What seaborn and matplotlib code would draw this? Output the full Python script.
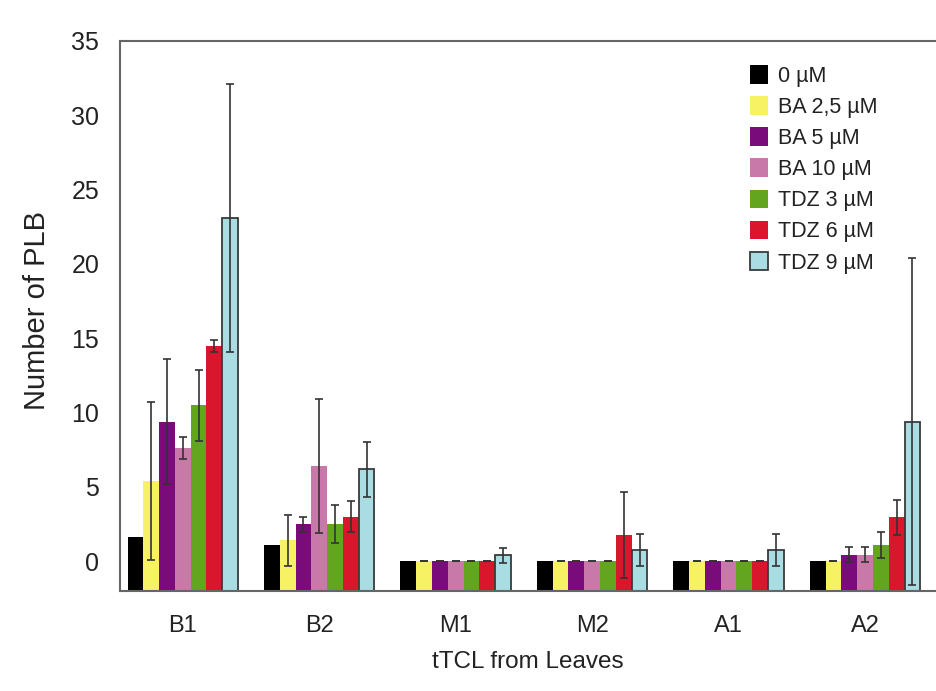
import numpy as np
import pandas as pd
import seaborn as sns
import matplotlib.pyplot as plt

sns.set_theme(style="white")
plt.rcParams['font.family'] = ['Liberation Sans', 'DejaVu Sans']

tissues = ['B1', 'B2', 'M1', 'M2', 'A1', 'A2']
treatments = ['0 µM', 'BA 2,5 µM', 'BA 5 µM', 'BA 10 µM', 'TDZ 3 µM', 'TDZ 6 µM', 'TDZ 9 µM']
colors = ['#000000', '#f7f264', '#7a0b7a', '#c879aa', '#63a51f', '#d9162b', '#a9dce3']

# mean number of PLB per treatment, one list per tissue
means = {
    'B1': [1.6, 5.4, 9.4, 7.6, 10.5, 14.5, 23.1],
    'B2': [1.1, 1.4, 2.5, 6.4, 2.5, 3.0, 6.2],
    'M1': [0, 0, 0, 0, 0, 0, 0.4],
    'M2': [0, 0, 0, 0, 0, 1.75, 0.75],
    'A1': [0, 0, 0, 0, 0, 0, 0.75],
    'A2': [0, 0, 0.45, 0.45, 1.1, 2.95, 9.4],
}
# standard errors
errors = {
    'B1': [0, 5.3, 4.2, 0.75, 2.4, 0.4, 9.0],
    'B2': [0, 1.7, 0.5, 4.5, 1.3, 1.05, 1.85],
    'M1': [0, 0, 0, 0, 0, 0, 0.5],
    'M2': [0, 0, 0, 0, 0, 2.9, 1.1],
    'A1': [0, 0, 0, 0, 0, 0, 1.1],
    'A2': [0, 0, 0.5, 0.5, 0.9, 1.2, 11.0],
}

ymin = -2

rows = []
for t in tissues:
    for k, tr in enumerate(treatments):
        rows.append({'tissue': t, 'treatment': tr, 'mean': means[t][k], 'err': errors[t][k]})
df = pd.DataFrame(rows)
df['bar'] = df['mean'] - ymin

fig = plt.figure(figsize=(9.36, 6.91), dpi=100)
ax = fig.add_axes([0.1282, 0.1447, 0.8718, 0.796])

sns.barplot(data=df, x='tissue', y='bar', hue='treatment', order=tissues,
            hue_order=treatments, palette=colors, bottom=ymin, width=0.81,
            errorbar=None, legend=False, linewidth=0, saturation=1, ax=ax)
bars = list(ax.containers)

# outline on the TDZ 9 bars only
for p in bars[-1]:
    p.set_edgecolor('#3a3a3a')
    p.set_linewidth(1.3)

# error bars (not for the control)
for k, cont in enumerate(bars):
    if k == 0:
        continue
    sub = df[df['treatment'] == treatments[k]].set_index('tissue').loc[tissues]
    xs = [p.get_x() + p.get_width() / 2 for p in cont]
    ax.errorbar(xs, sub['mean'], yerr=sub['err'], fmt='none', ecolor='#333333',
                elinewidth=1.2, capsize=3, capthick=1.2, zorder=5)

ax.set_ylim(ymin, 35)
ax.set_xlim(-0.46, 5.52)
ax.set_yticks(range(0, 36, 5))
ax.tick_params(axis='y', direction='out', length=7, width=1.2, color='#666666',
               labelsize=18, pad=8, labelcolor='#222222')
ax.tick_params(axis='x', length=0, labelsize=17, pad=17, labelcolor='#222222')
for s in ['left', 'bottom', 'top']:
    ax.spines[s].set_color('#666666')
    ax.spines[s].set_linewidth(1.5)
ax.spines['right'].set_visible(False)

ax.set_ylabel('Number of PLB', fontsize=21, color='#222222')
ax.yaxis.set_label_coords(-0.085, 0.51)
ax.set_xlabel('tTCL from Leaves', fontsize=17.5, labelpad=10, color='#222222')

ax.legend(bars, treatments, loc='upper left', bbox_to_anchor=(0.762, 0.972),
          frameon=False, fontsize=15.5, handlelength=0.8, handleheight=0.95,
          handletextpad=0.5, labelspacing=0.44, borderaxespad=0, labelcolor='#222222')

fig.savefig('out.png', dpi=100)
